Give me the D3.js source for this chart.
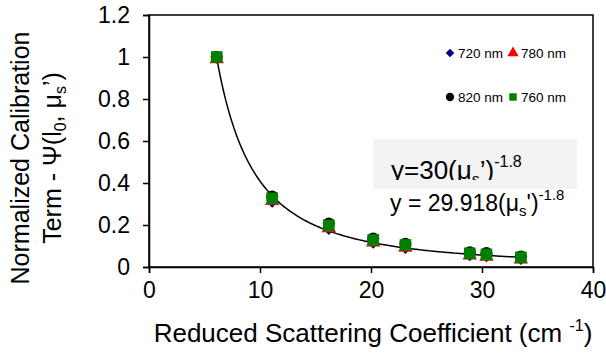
<!DOCTYPE html>
<html>
<head>
<meta charset="utf-8">
<script src="https://cdn.jsdelivr.net/npm/d3@7"></script>
<style>
  body { margin: 0; background: #fff; }
  svg { font-family: "Liberation Sans", Arial, sans-serif; }
</style>
</head>
<body>
<svg id="viz"></svg>
<script>
// ----------------------------------------------------------------------------------------------------------------
// DATA

var scattering = [6.1, 11.1, 16.2, 20.2, 23.1, 28.9, 30.4, 33.5];

var nm720 = [0.99, 0.305, 0.175, 0.11, 0.085, 0.05, 0.045, 0.032];
var nm780 = [0.99, 0.315, 0.185, 0.118, 0.093, 0.055, 0.05, 0.036];
var nm820 = [1.0, 0.335, 0.207, 0.136, 0.111, 0.07, 0.066, 0.05];
var nm760 = [1.0, 0.327, 0.198, 0.129, 0.105, 0.065, 0.06, 0.046];

var xTicks = [0, 10, 20, 30, 40];
var yTicks = [0, 0.2, 0.4, 0.6, 0.8, 1, 1.2];

// power law trend drawn through the points
var curveCoef = 25.8;
var curveExp = -1.8;
var curveRange = [6.0, 33.6];

// ----------------------------------------------------------------------------------------------------------------

(function() {

  // ----------------------------------------------------------------------------------------------------------------
  // INITIAL SETUP

  var w = 606;
  var h = 353;
  var viz = d3.select("#viz").attr("width", w).attr("height", h);

  var pLeft = 149, pRight = 593, pTop = 15, pBottom = 267;

  var x = d3.scaleLinear().domain([0, 40]).range([pLeft, pRight]);
  var y = d3.scaleLinear().domain([0, 1.2]).range([pBottom, pTop]);

  // ----------------------------------------------------------------------------------------------------------------
  // AXES

  // frame
  viz.append("rect")
    .attr("x", pLeft).attr("y", pTop)
    .attr("width", pRight - pLeft).attr("height", pBottom - pTop)
    .attr("fill", "none").attr("stroke", "#000").attr("stroke-width", 1.5);

  var xAxis = viz.append("g")
    .attr("transform", "translate(0," + pBottom + ")")
    .call(d3.axisBottom(x).tickValues(xTicks).tickSize(6).tickPadding(9).tickFormat(d3.format("d")));

  var yAxis = viz.append("g")
    .attr("transform", "translate(" + pLeft + ",0)")
    .call(d3.axisLeft(y).tickValues(yTicks).tickSize(6).tickPadding(13).tickFormat(function(d) { return d3.format("")(d); }));

  [xAxis, yAxis].forEach(function(g) {
    g.select(".domain").attr("stroke-width", 1.5);
    g.selectAll(".tick line").attr("stroke-width", 1.5);
    g.selectAll("text")
      .attr("font-family", "Liberation Sans, Arial, sans-serif")
      .attr("font-size", 23)
      .attr("fill", "#000");
  });

  // x title
  var xt = viz.append("text")
    .attr("x", 373).attr("y", 342)
    .attr("text-anchor", "middle")
    .attr("font-size", 26);
  xt.append("tspan").text("Reduced Scattering Coefficient (cm ");
  xt.append("tspan").attr("font-size", 16).attr("dy", -11).text("-1");
  xt.append("tspan").attr("dy", 11).text(")");

  // y title, two lines
  var yt = viz.append("g").attr("transform", "translate(29,158) rotate(-90)");
  yt.append("text")
    .attr("text-anchor", "middle")
    .attr("font-size", 25)
    .text("Normalized Calibration");
  var yt2 = yt.append("text")
    .attr("y", 32)
    .attr("text-anchor", "middle")
    .attr("font-size", 25);
  yt2.append("tspan").text("Term - \u03A8(l");
  yt2.append("tspan").attr("font-size", 16).attr("dy", 5).text("0");
  yt2.append("tspan").attr("dy", -5).text(", \u03BC");
  yt2.append("tspan").attr("font-size", 16).attr("dy", 5).text("s");
  yt2.append("tspan").attr("dy", -5).text("\u2019)");

  // ----------------------------------------------------------------------------------------------------------------
  // CURVE

  var curvePts = d3.range(0, 201).map(function(i) {
    var v = curveRange[0] + (curveRange[1] - curveRange[0]) * i / 200;
    return [v, curveCoef * Math.pow(v, curveExp)];
  });

  viz.append("path")
    .datum(curvePts)
    .attr("d", d3.line().x(function(d) { return x(d[0]); }).y(function(d) { return y(d[1]); }))
    .attr("fill", "none")
    .attr("stroke", "#000")
    .attr("stroke-width", 1.5);

  // ----------------------------------------------------------------------------------------------------------------
  // POINTS

  // diamond = square turned 45deg
  var series = [
    {name: "720 nm", values: nm720, color: "#000080", shape: d3.symbolSquare, rot: 45, size: 45},
    {name: "820 nm", values: nm820, color: "#000000", shape: d3.symbolCircle, rot: 0, size: 115},
    {name: "780 nm", values: nm780, color: "#ff0000", shape: d3.symbolTriangle, rot: 0, size: 90},
    {name: "760 nm", values: nm760, color: "#008000", shape: d3.symbolSquare, rot: 0, size: 135}
  ];

  series.forEach(function(s) {
    viz.append("g").selectAll("path")
      .data(s.values)
      .enter()
      .append("path")
      .attr("transform", function(d, i) { return "translate(" + x(scattering[i]) + "," + y(d) + ") rotate(" + s.rot + ")"; })
      .attr("d", d3.symbol().type(s.shape).size(s.size))
      .attr("fill", s.color);
  });

  // ----------------------------------------------------------------------------------------------------------------
  // LEGEND

  var legendItems = [
    {s: series[0], lx: 450, ly: 53},
    {s: series[2], lx: 513, ly: 53},
    {s: series[1], lx: 450, ly: 97},
    {s: series[3], lx: 513, ly: 97}
  ];

  legendItems.forEach(function(it) {
    viz.append("path")
      .attr("transform", "translate(" + it.lx + "," + it.ly + ") rotate(" + it.s.rot + ")")
      .attr("d", d3.symbol().type(it.s.shape).size(it.s.rot ? 36 : 55))
      .attr("fill", it.s.color);
    viz.append("text")
      .attr("x", it.lx + 8).attr("y", it.ly + 5)
      .attr("font-size", 13.5)
      .text(it.s.name);
  });

  // ----------------------------------------------------------------------------------------------------------------
  // EQUATIONS

  viz.append("rect")
    .attr("x", 373).attr("y", 139)
    .attr("width", 204).attr("height", 50)
    .attr("fill", "#f3f3f3");

  viz.append("clipPath").attr("id", "eqclip")
    .append("rect").attr("x", 373).attr("y", 139).attr("width", 204).attr("height", 41);

  var eq1 = viz.append("text")
    .attr("clip-path", "url(#eqclip)")
    .attr("x", 391).attr("y", 179)
    .attr("font-size", 26);
  eq1.append("tspan").text("y=30(\u03BC");
  eq1.append("tspan").attr("font-size", 16).attr("dy", 6).text("s");
  eq1.append("tspan").attr("dy", -6).text("\u2019)");
  eq1.append("tspan").attr("font-size", 16).attr("dy", -12).text("-1.8");

  var eq2 = viz.append("text")
    .attr("x", 390).attr("y", 211)
    .attr("font-size", 23);
  eq2.append("tspan").text("y = 29.918(\u03BC");
  eq2.append("tspan").attr("font-size", 15).attr("dy", 5).text("s");
  eq2.append("tspan").attr("dy", -5).text("')");
  eq2.append("tspan").attr("font-size", 15).attr("dy", -11).text("-1.8");

})();
</script>
</body>
</html>
